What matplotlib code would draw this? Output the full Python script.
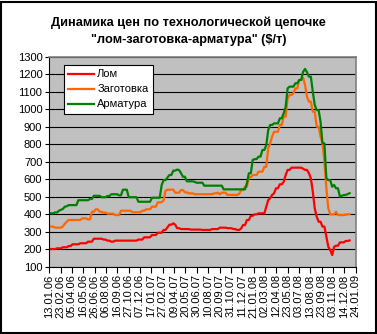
import numpy as np
import matplotlib
matplotlib.use("Agg")
import matplotlib.pyplot as plt
import matplotlib.dates as mdates
from matplotlib.patches import Rectangle

plt.rcParams['font.family'] = ['Liberation Sans', 'DejaVu Sans']

# weekly quotes, first one on 13.01.2006
start = np.datetime64('2006-01-13')

lom = [201, 201, 201, 201, 205, 205, 205, 211, 211, 211,
       218, 218, 228, 228, 228, 228, 234, 234, 234, 234,
       243, 243, 243, 260, 260, 260, 260, 260, 255, 255,
       249, 249, 243, 243, 249, 249, 249, 249, 249, 249,
       249, 249, 249, 249, 249, 249, 255, 255, 255, 268,
       268, 268, 268, 281, 281, 281, 294, 294, 294, 310,
       310, 325, 340, 340, 348, 340, 320, 320, 315, 315,
       315, 315, 315, 312, 312, 312, 312, 312, 312, 310,
       310, 310, 310, 310, 315, 315, 315, 315, 323, 323,
       323, 323, 320, 320, 320, 315, 315, 310, 310, 318,
       338, 338, 367, 367, 391, 391, 399, 399, 405, 405,
       405, 405, 443, 481, 491, 510, 519, 548, 548, 571,
       571, 586, 624, 653, 653, 666, 666, 666, 666, 666,
       666, 660, 653, 653, 634, 605, 529, 434, 386, 357,
       357, 329, 329, 271, 214, 195, 167, 214, 220, 220,
       239, 239, 239, 247, 247, 250]

zagotovka = [329, 329, 329, 323, 323, 323, 323, 330, 345, 357,
             367, 367, 367, 367, 367, 367, 367, 376, 376, 376,
             370, 370, 414, 414, 428, 428, 414, 414, 409, 409,
             403, 403, 403, 403, 395, 395, 395, 420, 420, 420,
             420, 420, 420, 411, 411, 411, 411, 411, 420, 420,
             428, 428, 428, 443, 443, 443, 468, 468, 468, 480,
             534, 540, 540, 540, 540, 523, 523, 523, 538, 538,
             525, 525, 519, 519, 519, 514, 514, 514, 514, 514,
             514, 514, 514, 514, 514, 519, 519, 523, 514, 523,
             523, 523, 510, 510, 510, 510, 510, 510, 516, 538,
             538, 557, 557, 611, 611, 624, 624, 624, 643, 643,
             643, 671, 671, 777, 805, 843, 871, 871, 871, 910,
             910, 957, 957, 1062, 1081, 1081, 1091, 1119, 1119, 1167,
             1167, 1180, 1138, 1071, 1043, 1043, 986, 986, 900, 900,
             843, 805, 700, 548, 434, 399, 399, 399, 414, 395,
             395, 395, 395, 397, 400, 400]

armatura = [405, 405, 405, 410, 410, 420, 425, 430, 443, 445,
            452, 452, 452, 452, 452, 480, 480, 480, 480, 480,
            480, 487, 487, 505, 505, 505, 505, 497, 497, 497,
            504, 504, 514, 514, 514, 514, 508, 508, 540, 540,
            540, 497, 497, 497, 497, 497, 471, 471, 471, 471,
            471, 471, 471, 494, 494, 494, 494, 494, 567, 595,
            595, 610, 624, 624, 649, 649, 655, 652, 634, 614,
            614, 588, 588, 588, 588, 585, 580, 580, 580, 580,
            563, 563, 563, 563, 563, 563, 563, 563, 563, 563,
            542, 542, 542, 542, 542, 542, 542, 542, 542, 542,
            542, 542, 577, 634, 634, 710, 715, 715, 729, 729,
            767, 767, 795, 881, 910, 910, 919, 919, 919, 948,
            948, 977, 1014, 1119, 1129, 1129, 1129, 1148, 1148, 1167,
            1167, 1214, 1230, 1211, 1186, 1186, 1100, 1024, 995, 995,
            929, 805, 805, 605, 595, 595, 557, 567, 548, 548,
            500, 505, 510, 510, 515, 520]

series_names = ["Лом", "Заготовка", "Арматура"]
series_colors = ["#FF0000", "#FF6600", "#008000"]

dates = start + np.arange(len(lom)) * np.timedelta64(7, 'D')
tick_dates = np.datetime64('2006-01-13') + np.arange(28) * np.timedelta64(41, 'D')

fig = plt.figure(figsize=(3.77, 3.34), dpi=100)
ax = fig.add_axes([49.3 / 377, 1 - 266.7 / 334, (355.7 - 49.3) / 377, (266.7 - 56.7) / 334])
ax.set_facecolor("#C0C0C0")

for vals, name, col in zip([lom, zagotovka, armatura], series_names, series_colors):
    ax.plot(dates.astype('datetime64[D]').astype(object), vals, color=col, lw=1.6, label=name)

ax.set_ylim(100, 1300)
ax.set_yticks(np.arange(100, 1301, 100))
ax.yaxis.grid(True, color="black", lw=0.8)
ax.set_axisbelow(True)
ax.set_xlim(tick_dates[0].astype(object), tick_dates[-1].astype(object))
ax.set_xticks(tick_dates.astype(object))
ax.xaxis.set_major_formatter(mdates.DateFormatter('%d.%m.%y'))
ax.tick_params(axis='x', rotation=90, labelsize=8, length=4, width=0.8, pad=1.5)
ax.tick_params(axis='y', labelsize=8, length=3, width=0.8, pad=2)

for s in ['top', 'right']:
    ax.spines[s].set_color("#808080")
    ax.spines[s].set_linewidth(1.2)
for s in ['left', 'bottom']:
    ax.spines[s].set_color("black")
    ax.spines[s].set_linewidth(0.8)

fig.text(0.5, 1 - 23 / 334, "Динамика цен по технологической цепочке",
         ha='center', va='center', fontsize=9.2, fontweight='bold')
fig.text(0.5, 1 - 40 / 334, "\"лом-заготовка-арматура\" ($/т)",
         ha='center', va='center', fontsize=9.2, fontweight='bold')

leg = ax.legend(loc='upper left', bbox_to_anchor=(64 / 377, 1 - 65 / 334),
                bbox_transform=fig.transFigure, fontsize=8, frameon=True,
                fancybox=False, borderaxespad=0, borderpad=0.4,
                handlelength=2.3, handletextpad=0.3, labelspacing=0.45)
leg.get_frame().set_edgecolor("black")
leg.get_frame().set_facecolor("white")
leg.get_frame().set_alpha(1)
leg.get_frame().set_linewidth(0.8)

fig.patches.append(Rectangle((0.5 / 377, 1.5 / 334), 375.5 / 377, 330.5 / 334,
                             transform=fig.transFigure, fill=False,
                             edgecolor="black", lw=1.5))

fig.savefig("out.png", dpi=100)
